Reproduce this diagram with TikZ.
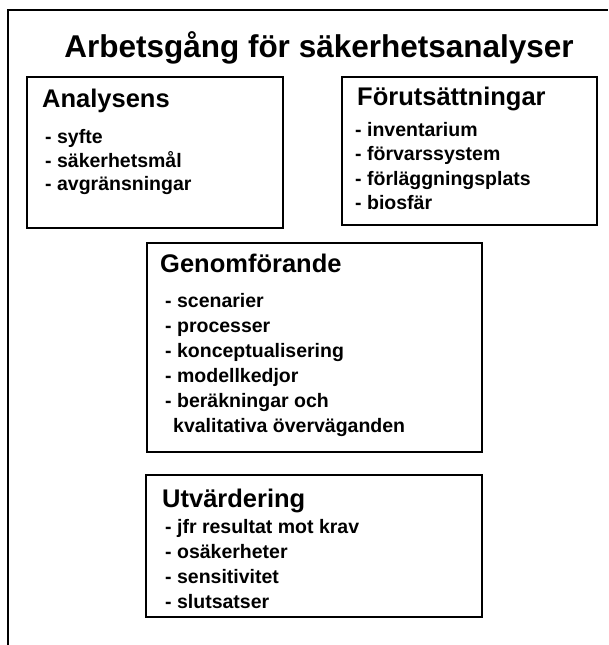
\documentclass[tikz,border=0pt]{standalone}
\usepackage{fontspec}
\setmainfont{Liberation Sans}
\begin{document}
\begin{tikzpicture}[x=1pt,y=-1pt,
  panel/.style={draw=black, line width=1.4pt, rectangle, inner sep=0pt},
  titletext/.style={font=\bfseries\fontsize{31.5}{36}\selectfont, inner sep=0pt, anchor=base},
  headtext/.style={font=\bfseries\fontsize{25.5}{30}\selectfont, inner sep=0pt, anchor=base west},
  itemtext/.style={font=\bfseries\fontsize{19.5}{24}\selectfont, inner sep=0pt, anchor=base west}]
\useasboundingbox (0,0) rectangle (608,645);

% outer sheet frame (only top and left edges show)
\coordinate (fbl) at (8,645);
\coordinate (ftl) at (8,10);
\coordinate (ftr) at (608,10);
\draw[line width=2.6pt] (fbl) -- (ftl) -- (ftr);

\node[titletext] (title) at (319,57) {Arbetsgång för säkerhetsanalyser};

% Analysens
\node[panel, minimum width=256pt, minimum height=151pt] (ana) at (155,152.5) {};
\node[headtext] (anaH) at (42,107) {Analysens};
\node[itemtext] (ana1) at (45,143) {- syfte};
\node[itemtext] (ana2) at (45,167) {- säkerhetsmål};
\node[itemtext] (ana3) at (45,190) {- avgränsningar};

% Förutsättningar
\node[panel, minimum width=255pt, minimum height=148pt] (for) at (469.5,151) {};
\node[headtext] (forH) at (357,105) {Förutsättningar};
\node[itemtext] (for1) at (355,136) {- inventarium};
\node[itemtext] (for2) at (355,160.5) {- förvarssystem};
\node[itemtext] (for3) at (355,185) {- förläggningsplats};
\node[itemtext] (for4) at (355,209.5) {- biosfär};

% Genomförande
\node[panel, minimum width=335pt, minimum height=209pt] (gen) at (314.5,347.5) {};
\node[headtext] (genH) at (160,272) {Genomförande};
\node[itemtext] (gen1) at (165,307) {- scenarier};
\node[itemtext] (gen2) at (165,332) {- processer};
\node[itemtext] (gen3) at (165,357) {- konceptualisering};
\node[itemtext] (gen4) at (165,382) {- modellkedjor};
\node[itemtext] (gen5) at (165,407) {- beräkningar och};
\node[itemtext] (gen6) at (173,432) {kvalitativa överväganden};

% Utvärdering
\node[panel, minimum width=336pt, minimum height=142pt] (utv) at (314,546) {};
\node[headtext] (utvH) at (162,507) {Utvärdering};
\node[itemtext] (utv1) at (165,533) {- jfr resultat mot krav};
\node[itemtext] (utv2) at (165,558) {- osäkerheter};
\node[itemtext] (utv3) at (165,583) {- sensitivitet};
\node[itemtext] (utv4) at (165,608) {- slutsatser};
\end{tikzpicture}
\end{document}
